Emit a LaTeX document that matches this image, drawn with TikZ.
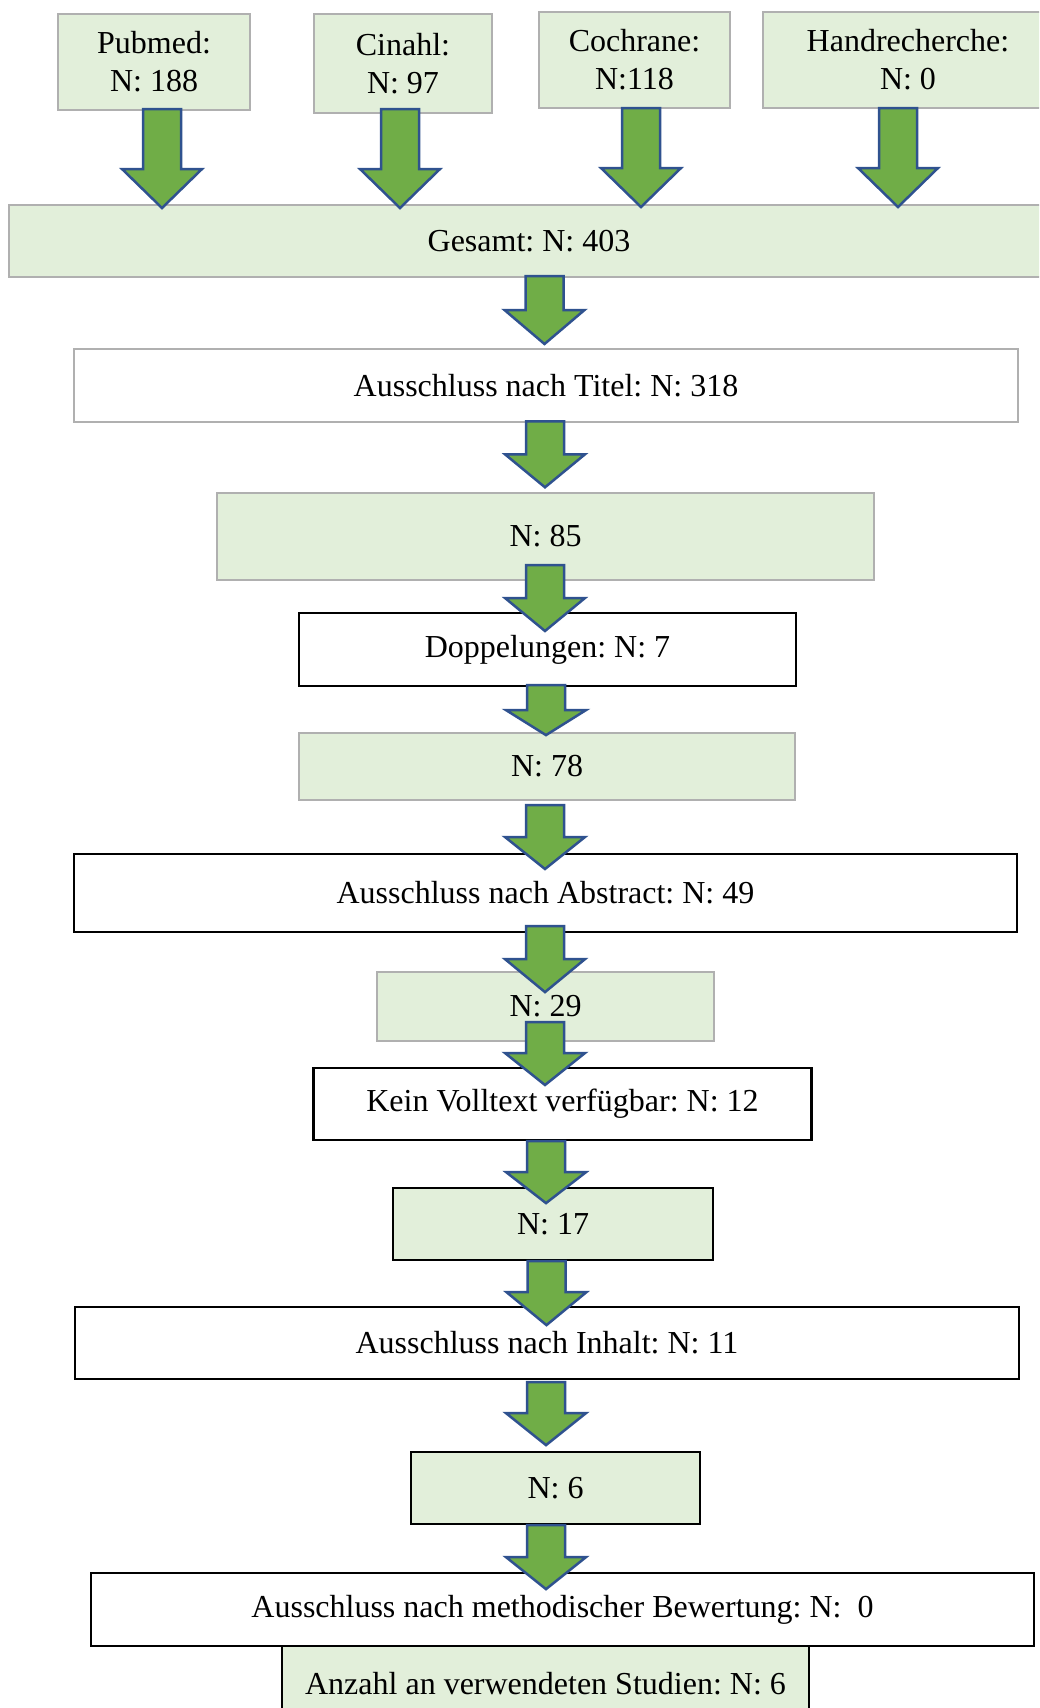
\documentclass[tikz,border=0pt]{standalone}
\usepackage{fontspec}
\setmainfont{Liberation Serif}
\usetikzlibrary{calc}
\frenchspacing

\definecolor{boxgreen}{HTML}{E2EFDA}
\definecolor{arrowgreen}{HTML}{70AD47}
\definecolor{arrowblue}{HTML}{2F528F}
\definecolor{boxgray}{HTML}{B0B0B0}

% block arrow: x, node above, offset, shaft length, head length
\newcommand{\blockarrow}[5]{%
  \draw[flow arrow] (#1,0 |- #2.south) ++(0,#3) ++(-19,0) -- ++(38,0) -- ++(0,#4)
    -- ++(21,0) -- ++(-40,#5) -- ++(-40,-#5) -- ++(21,0) -- cycle;}

\begin{document}
\begin{tikzpicture}[x=1pt,y=-1pt,
    box/.style={rectangle,inner sep=0pt,align=center,font=\fontsize{32}{38}\selectfont},
    green box/.style={box,fill=boxgreen},
    white box/.style={box,fill=white},
    gray frame/.style={draw=boxgray,line width=2pt},
    black frame/.style={draw=black,line width=2.2pt},
    flow arrow/.style={fill=arrowgreen,draw=arrowblue,line width=2.5pt,line join=miter}]

    \useasboundingbox (0,0) rectangle (1039,1708);
    \clip (0,0) rectangle (1039,1708);

    % sources
    \node[green box,gray frame,minimum width=192pt,minimum height=96pt] (pubmed) at (154,62) {Pubmed:\\N: 188};
    \node[green box,gray frame,minimum width=178pt,minimum height=99pt] (cinahl) at (403,63.5) {Cinahl:\\N: 97};
    \node[green box,gray frame,minimum width=191pt,minimum height=96pt] (cochrane) at (634.5,60) {Cochrane:\\N:118};
    \node[green box,gray frame,minimum width=290pt,minimum height=96pt] (hand) at (908,60) {Handrecherche:\\N: 0};

    \node[green box,gray frame,minimum width=1040pt,minimum height=72pt] (gesamt) at (529,241) {Gesamt: N: 403};

    % screening steps
    \node[white box,gray frame,line width=2.6pt,minimum width=944pt,minimum height=73pt] (titel) at (546,385.5) {Ausschluss nach Titel: N: 318};
    \node[green box,gray frame,minimum width=657pt,minimum height=87pt] (n85) at (545.5,536.5) {N: 85};
    \node[white box,black frame,minimum width=497pt,minimum height=73pt] (dopp) at (547.5,649.5) {Doppelungen: N: 7};
    \node[green box,gray frame,minimum width=496pt,minimum height=67pt] (n78) at (547,766.5) {N: 78};
    \node[white box,black frame,minimum width=943pt,minimum height=78pt] (abstract) at (545.5,893) {Ausschluss nach Abstract: N: 49};
    \node[green box,gray frame,minimum width=337pt,minimum height=69pt] (n29) at (545.5,1006.5) {N: 29};
    \node[white box,black frame,minimum width=498pt,minimum height=72pt] (kein) at (562.5,1104) {Kein Volltext verfügbar: N: 12};
    \node[green box,black frame,minimum width=320pt,minimum height=72pt] (n17) at (553,1224) {N: 17};
    \node[white box,black frame,minimum width=944pt,minimum height=72pt] (inhalt) at (547,1343) {Ausschluss nach Inhalt: N: 11};
    \node[green box,black frame,minimum width=289pt,minimum height=72pt] (n6) at (555.5,1488) {N: 6};
    \node[white box,black frame,minimum width=943pt,minimum height=73pt] (meth) at (562.5,1609.5) {Ausschluss nach methodischer Bewertung: N:~~0};
    \node[green box,black frame,minimum width=527pt,minimum height=76pt] (anzahl) at (545.5,1684) {Anzahl an verwendeten Studien: N: 6};

    % arrows
    \blockarrow{162}{pubmed}{-2}{60}{39}
    \blockarrow{400}{cinahl}{-5}{60}{39}
    \blockarrow{641}{cochrane}{-1}{60}{39}
    \blockarrow{898}{hand}{-1}{60}{39}

    \blockarrow{544.5}{gesamt}{-2}{34}{34}
    \blockarrow{545}{titel}{-2}{33}{33}
    \blockarrow{545}{n85}{-16}{33}{33}
    \blockarrow{546}{dopp}{-2}{25}{25}
    \blockarrow{545}{n78}{4}{32}{32}
    \blockarrow{545}{abstract}{-7}{33}{33}
    \blockarrow{545}{n29}{-20}{31}{32}
    \blockarrow{546}{kein}{0}{31}{31}
    \blockarrow{546.5}{n17}{0}{31}{33}
    \blockarrow{546}{inhalt}{2}{31}{32}
    \blockarrow{546}{n6}{0}{32}{32}
\end{tikzpicture}
\end{document}
